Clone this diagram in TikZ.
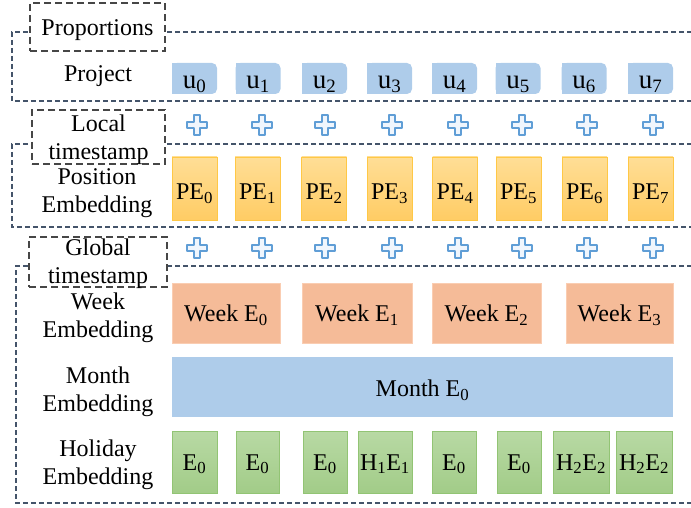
\documentclass[tikz,border=0pt]{standalone}
\usepackage{fontspec}
\setmainfont{Liberation Serif}
\usetikzlibrary{backgrounds}

\definecolor{regionline}{RGB}{68,84,106}
\definecolor{tagline}{RGB}{70,70,70}
\definecolor{ublue}{RGB}{174,204,234}
\definecolor{petop}{RGB}{255,222,150}
\definecolor{pebot}{RGB}{255,204,100}
\definecolor{peedge}{RGB}{255,200,70}
\definecolor{weekfill}{RGB}{245,187,152}
\definecolor{weekedge}{RGB}{250,205,178}
\definecolor{holtop}{RGB}{184,217,164}
\definecolor{holbot}{RGB}{162,204,136}
\definecolor{holedge}{RGB}{146,196,116}
\definecolor{plusline}{RGB}{96,158,214}
\definecolor{plusfill}{RGB}{240,246,253}

\newcommand\sbx[1]{\textsubscript{#1}}

\tikzset{
  txt/.style={inner sep=0pt, outer sep=0pt, font=\fontsize{24}{28}\selectfont},
  rowlabel/.style={txt, align=center},
  tagbox/.style={draw=tagline, fill=white, line width=1.3pt, dash pattern=on 7pt off 4pt, inner sep=0pt},
  region/.style={draw=regionline, line width=1.2pt, dash pattern=on 5pt off 3pt},
  ubox/.style={txt, font=\fontsize{27}{28}\selectfont, fill=ublue, rounded corners=5pt, minimum width=45pt,
               minimum height=31pt, text height=26pt, text depth=5pt},
  pebox/.style={txt, top color=petop, bottom color=pebot, draw=peedge, line width=0.8pt,
                minimum width=45pt, minimum height=63pt, text height=43pt, text depth=20pt},
  weekbox/.style={txt, fill=weekfill, draw=weekedge, line width=0.8pt, minimum width=108pt,
                  minimum height=60pt, text height=38.7pt, text depth=21.3pt},
  monthbox/.style={txt, fill=ublue, minimum width=501pt, minimum height=60pt,
                   text height=39.7pt, text depth=20.3pt},
  holbox/.style={txt, top color=holtop, bottom color=holbot, draw=holedge, line width=0.8pt,
                 minimum width=44pt, minimum height=62pt, text height=39pt, text depth=23pt},
  plussign/.pic={
    \draw[plusline, fill=plusfill, line width=1.1pt, line join=round]
      (-3,-10) -- (3,-10) -- (3,-3) -- (10,-3) -- (10,3) -- (3,3)
      -- (3,10) -- (-3,10) -- (-3,3) -- (-10,3) -- (-10,-3) -- (-3,-3) -- cycle;
  }
}

\begin{document}
\begin{tikzpicture}[x=1pt, y=-1pt]
\useasboundingbox (0,0) rectangle (691,508);

% dashed group outlines (open on the right)
\path[region] (700,32) -- (12,32) -- (12,101) -- (700,101);
\path[region] (700,144) -- (12,144) -- (12,227) -- (700,227);
\path[region] (700,266) -- (16,266) -- (16,503) -- (700,503);

% tag boxes
\node[tagbox, minimum width=135pt, minimum height=48pt] (tagprop) at (97.5,27) {};
\node[rowlabel] (tagproptxt) at (97.5,30.4) {\strut Proportions};
\node[tagbox, minimum width=133pt, minimum height=54pt] (taglocal) at (98.5,137) {};
\node[rowlabel] (taglocaltxt) at (98.5,140.4) {\strut Local\\\strut timestamp};
\node[tagbox, minimum width=138pt, minimum height=50pt] (tagglobal) at (98,262) {};
\node[rowlabel] (tagglobaltxt) at (98,263.4) {\strut Global\\\strut timestamp};

% row labels
\node[rowlabel] (lproject) at (98,76.4) {\strut Project};
\node[rowlabel] (lpos) at (97,192.9) {\strut Position\\\strut Embedding};
\node[rowlabel] (lweek) at (98,317.4) {\strut Week\\\strut Embedding};
\node[rowlabel] (lmonth) at (98,391.9) {\strut Month\\\strut Embedding};
\node[rowlabel] (lhol) at (98,464.4) {\strut Holiday\\\strut Embedding};

% project tokens
\foreach \i/\x in {0/194.5,1/258,2/324.5,3/389.5,4/454.5,5/518,6/584,7/650.5}
  \node[ubox] (u\i) at (\x,78.5) {u\sbx{\i}};
\begin{scope}[on background layer]
  \foreach \i in {0,...,7}
    \fill[ublue] (u\i.south west) rectangle (u\i.north);
\end{scope}

% plus signs
\foreach \i/\x in {0/197,1/262,2/325,3/392,4/458,5/522,6/587,7/653}{
  \pic (pl\i) at (\x,125) {plussign};
  \pic (pg\i) at (\x,248) {plussign};
}

% position embeddings
\foreach \i/\x in {0/194.5,1/257.5,2/324,3/389.5,4/455,5/518.5,6/584.5,7/650.5}
  \node[pebox] (pe\i) at (\x,188.5) {PE\sbx{\i}};

% week embeddings
\node[weekbox] (w0) at (226,313) {Week E\sbx{0}};
\node[weekbox, minimum width=110pt] (w1) at (357,313) {Week E\sbx{1}};
\node[weekbox, minimum width=109pt] (w2) at (486.5,313) {Week E\sbx{2}};
\node[weekbox, minimum width=107pt] (w3) at (619.5,313) {Week E\sbx{3}};

% month embedding
\node[monthbox] (m0) at (422.5,387) {Month E\sbx{0}};

% holiday embeddings
\node[holbox, minimum width=45pt] (h0) at (194.5,462) {E\sbx{0}};
\node[holbox, minimum width=43pt] (h1) at (257.5,462) {E\sbx{0}};
\node[holbox] (h2) at (325,462) {E\sbx{0}};
\node[holbox, minimum width=54pt] (h3) at (385,462) {H\sbx{1}E\sbx{1}};
\node[holbox] (h4) at (454,462) {E\sbx{0}};
\node[holbox] (h5) at (519,462) {E\sbx{0}};
\node[holbox, minimum width=56pt] (h6) at (581,462) {H\sbx{2}E\sbx{2}};
\node[holbox, minimum width=56pt] (h7) at (644,462) {H\sbx{2}E\sbx{2}};
\end{tikzpicture}
\end{document}
